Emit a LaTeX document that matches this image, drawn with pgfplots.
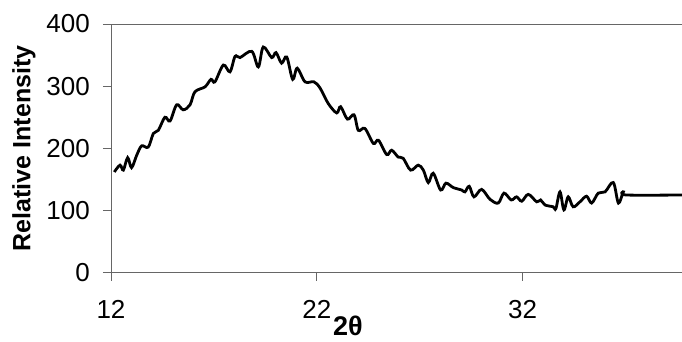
\documentclass[border=0pt]{standalone}
\usepackage{fontspec}
\setmainfont{Liberation Sans}
\usepackage{pgfplots}
\pgfplotsset{compat=1.18}
\begin{document}
\begin{tikzpicture}
\begin{axis}[
  scale only axis,
  width=571pt, height=248.7pt,
  xmin=12, xmax=39.75, ymin=0, ymax=400,
  axis x line=bottom, axis y line=left,
  axis line style={-, gray!80!black, line width=0.8pt},
  xtick={12,22,32}, ytick={0,100,200,300,400},
  tick align=outside, major tick length=8pt,
  tick style={gray!80!black, line width=0.8pt},
  /pgf/number format/assume math mode=true,
  ticklabel style={font=\fontsize{26}{30}\selectfont},
  xticklabel style={anchor=north, inner sep=0pt, yshift=-19pt},
  yticklabel style={anchor=east, inner sep=0pt, xshift=-13pt},
  clip=false,
]
\draw[gray!80!black, line width=0.8pt] (rel axis cs:0,1) -- (rel axis cs:1,1);
\addplot[black, line width=2.8pt, smooth, tension=0.55] coordinates {
(12.16,162) (12.44,173) (12.6,165) (12.81,185) (13.0,169) (13.25,189) (13.49,204)
(13.81,202) (14.06,224) (14.3,229) (14.62,250) (14.87,244) (15.19,270) (15.51,262)
(15.84,270) (16.08,291) (16.57,299) (16.86,311) (17.05,307) (17.46,334) (17.78,323)
(18.03,348) (18.27,346) (18.84,356) (19.16,331) (19.4,363) (19.81,346) (20.02,354)
(20.29,337) (20.54,347) (20.83,311) (21.05,329) (21.43,307) (21.86,307) (22.16,297)
(22.56,272) (22.97,257) (23.16,267) (23.49,247) (23.81,254) (24.02,229) (24.34,232)
(24.75,208) (25.0,213) (25.4,190) (25.64,197) (25.96,186) (26.2,184) (26.56,165)
(26.93,173) (27.18,165) (27.42,145) (27.66,160) (28.02,133) (28.28,144) (28.63,137)
(29.04,133) (29.2,130) (29.41,139) (29.64,122) (30.01,134) (30.42,118) (30.82,112)
(31.1,128) (31.45,117) (31.71,122) (31.96,115) (32.28,126) (32.69,114) (32.88,117)
(33.09,109) (33.49,106) (33.62,103) (33.82,130) (34.01,101) (34.22,122) (34.46,106)
(34.79,114) (35.11,123) (35.36,112) (35.68,128) (36.01,130) (36.41,145) (36.66,112)
(36.9,130) (37.03,125) (39.75,125)
};
\node[anchor=north, inner sep=0pt, font=\fontsize{27}{32}\selectfont\bfseries] at ([yshift=-43pt]axis description cs:0.415,0) {2θ};
\node[rotate=90, anchor=center, inner sep=0pt, font=\fontsize{25}{30}\selectfont\bfseries] at ([xshift=-87pt]axis description cs:0,0.5) {Relative Intensity};
\end{axis}
\pgfresetboundingbox
\path (-111pt,-68.3pt) rectangle (571pt,272.7pt);
\end{tikzpicture}
\end{document}
